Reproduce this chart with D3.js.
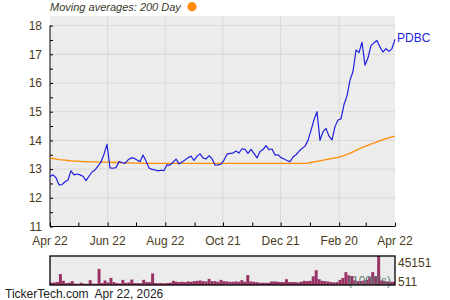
<!DOCTYPE html>
<html>
<head>
<meta charset="utf-8">
<script src="https://cdn.jsdelivr.net/npm/d3@7"></script>
<style>
  body { margin: 0; background: #fff; }
  svg { display: block; font-family: "Liberation Sans", Arial, sans-serif; }
</style>
</head>
<body>
<svg id="chart" width="450" height="300"></svg>
<script>
// closing prices, evenly spaced from Apr 22 to Apr 22
const prices = [
  12.74, 12.80, 12.70, 12.45, 12.46, 12.56, 12.62, 12.94, 12.80, 12.83,
  12.80, 12.75, 12.60, 12.75, 12.90, 12.97, 13.10, 13.25, 13.52, 13.86,
  13.04, 13.03, 13.05, 13.26, 13.23, 13.20, 13.32, 13.39, 13.38, 13.32,
  13.26, 13.49, 13.28, 13.04, 12.99, 12.97, 12.94, 12.96, 12.95, 13.15,
  13.14, 13.24, 13.35, 13.18, 13.25, 13.32, 13.40, 13.45, 13.30, 13.45,
  13.53, 13.39, 13.35, 13.47, 13.36, 13.14, 13.15, 13.17, 13.31, 13.52,
  13.55, 13.56, 13.63, 13.56, 13.71, 13.69, 13.55, 13.69, 13.55, 13.39,
  13.61, 13.68, 13.82, 13.68, 13.70, 13.49, 13.50, 13.40, 13.35, 13.30,
  13.26, 13.42, 13.50, 13.62, 13.72, 13.80, 14.00, 14.35, 14.72, 15.00,
  14.00, 14.30, 14.42, 14.15, 14.02, 14.48, 14.71, 14.75, 15.25, 15.55,
  16.10, 16.40, 17.15, 17.06, 17.42, 16.62, 16.88, 17.30, 17.40, 17.48,
  17.25, 17.08, 17.20, 17.10, 17.20, 17.52
]

// 200 day moving average
const ma200 = [
  13.38, 13.37, 13.35, 13.33, 13.32, 13.31, 13.30, 13.29, 13.28, 13.28,
  13.27, 13.26, 13.26, 13.25, 13.25, 13.25, 13.24, 13.24, 13.24, 13.24,
  13.24, 13.23, 13.23, 13.23, 13.22, 13.22, 13.22, 13.22, 13.21, 13.21,
  13.21, 13.20, 13.20, 13.20, 13.20, 13.20, 13.20, 13.20, 13.20, 13.20,
  13.20, 13.20, 13.20, 13.20, 13.20, 13.20, 13.20, 13.20, 13.20, 13.20,
  13.20, 13.20, 13.20, 13.20, 13.20, 13.20, 13.20, 13.20, 13.20, 13.20,
  13.20, 13.20, 13.20, 13.20, 13.20, 13.20, 13.20, 13.20, 13.20, 13.20,
  13.20, 13.20, 13.20, 13.20, 13.20, 13.20, 13.20, 13.20, 13.20, 13.20,
  13.20, 13.20, 13.20, 13.20, 13.20, 13.20, 13.21, 13.23, 13.25, 13.27,
  13.29, 13.31, 13.33, 13.35, 13.37, 13.39, 13.41, 13.44, 13.47, 13.51,
  13.55, 13.60, 13.65, 13.70, 13.75, 13.79, 13.83, 13.87, 13.91, 13.95,
  13.99, 14.03, 14.06, 14.09, 14.12, 14.15
]

// volume in 1000's
const volumes = [
  3600, 3900, 4700, 17000, 6500, 2800, 3500, 6000, 2200, 2000,
  3500, 2200, 2000, 7500, 2300, 2000, 25000, 3000, 7000, 4000,
  11000, 4500, 3000, 2500, 8000, 3500, 4000, 8500, 3000, 3000,
  2800, 8000, 4500, 4500, 18000, 3000, 2800, 3000, 2500, 3000,
  3500, 6500, 5000, 4500, 5000, 4500, 5500, 5000, 6000, 6500,
  7000, 6000, 5500, 9500, 6000, 6000, 5000, 8000, 6000, 5500,
  5000, 5000, 5500, 5000, 7500, 5000, 15500, 5500, 5000, 4500,
  3500, 3500, 3500, 3500, 5500, 5500, 5000, 4500, 4500, 9000,
  4500, 4500, 4500, 4000, 5000, 6500, 6000, 6500, 13500, 23000,
  9000, 6500, 6000, 5500, 4500, 4000, 4500, 8000, 11000, 20000,
  15000, 14000, 7500, 6000, 6000, 7000, 8000, 12000, 20000, 14000,
  45151, 7000, 6500, 5500, 5000, 5000
]

const xTickLabels = ['Apr 22', 'Jun 22', 'Aug 22', 'Oct 21', 'Dec 21', 'Feb 20', 'Apr 22']
const yTicks = [11, 12, 13, 14, 15, 16, 17, 18]
const volLabels = ['45151', '511']

const startDate = new Date(2021, 3, 22)
const endDate = new Date(2022, 3, 22)

const plotLeft = 50, plotRight = 395, plotTop = 16, plotBottom = 226.5
const volTop = 256, volBottom = 285
const textColor = '#4a3b1c'
const gridColor = '#d8d8d8'

const svg = d3.select('#chart')

// plot background
svg.append('rect')
    .attr('x', plotLeft).attr('y', plotTop)
    .attr('width', plotRight - plotLeft).attr('height', plotBottom - plotTop)
    .attr('fill', '#ececec')

const xTime = d3.scaleTime().domain([startDate, endDate]).range([plotLeft, plotRight])
const xIdx = d3.scaleLinear().domain([0, prices.length - 1]).range([plotLeft, plotRight])
const y = d3.scaleLinear().domain([11, 18]).range([plotBottom, 25.6])

const monthTicks = d3.range(0, 13).map(k => d3.timeMonth.offset(startDate, k))
const labelTicks = monthTicks.filter((d, k) => k % 2 === 0)

//grid lines
svg.append('g')
    .selectAll('line')
    .data(yTicks.slice(1))
    .enter().append('line')
    .attr('x1', plotLeft).attr('x2', plotRight)
    .attr('y1', d => y(d)).attr('y2', d => y(d))
    .attr('stroke', gridColor).attr('stroke-width', 1)

svg.append('g')
    .selectAll('line')
    .data(labelTicks.slice(1, -1))
    .enter().append('line')
    .attr('x1', d => xTime(d)).attr('x2', d => xTime(d))
    .attr('y1', plotTop).attr('y2', plotBottom)
    .attr('stroke', gridColor).attr('stroke-width', 1)

// y axis, ticks point inward
const yAxis = svg.append('g')
    .attr('transform', `translate(${plotLeft},0)`)
    .call(d3.axisRight(y).tickValues(d3.range(11, 18.01, 0.5)).tickSize(3).tickFormat(''))
yAxis.select('.domain').attr('stroke', '#000').attr('d', `M0,${y(18)}V${plotBottom}`)
yAxis.selectAll('.tick line').attr('stroke', '#000')

svg.append('g')
    .selectAll('text')
    .data(yTicks)
    .enter().append('text')
    .attr('x', 42)
    .attr('y', d => y(d))
    .attr('dy', '0.35em')
    .attr('text-anchor', 'end')
    .attr('font-size', 12)
    .attr('fill', textColor)
    .text(d => d)

// x axis
const xAxis = svg.append('g')
    .attr('transform', `translate(0,${plotBottom})`)
    .call(d3.axisTop(xTime).tickValues(monthTicks).tickSize(4).tickFormat(''))
xAxis.select('.domain').attr('stroke', '#000').attr('d', `M${plotLeft},0H${plotRight}`)
xAxis.selectAll('.tick line').attr('stroke', '#000')

svg.append('g')
    .selectAll('text')
    .data(labelTicks)
    .enter().append('text')
    .attr('x', d => xTime(d))
    .attr('y', 245)
    .attr('text-anchor', 'middle')
    .attr('font-size', 12)
    .attr('fill', textColor)
    .text((d, i) => xTickLabels[i])

// moving average line
svg.append('path')
    .datum(ma200)
    .attr('fill', 'none')
    .attr('stroke', '#ff8c00')
    .attr('stroke-width', 1.3)
    .attr('d', d3.line().x((d, i) => xIdx(i)).y(d => y(d)))

// price line
svg.append('path')
    .datum(prices)
    .attr('fill', 'none')
    .attr('stroke', '#1f1fe0')
    .attr('stroke-width', 1.2)
    .attr('stroke-linejoin', 'round')
    .attr('d', d3.line().x((d, i) => xIdx(i)).y(d => y(d)))

svg.append('text')
    .attr('x', plotRight + 2)
    .attr('y', y(prices[prices.length - 1]))
    .attr('dy', '0.2em')
    .attr('font-size', 12)
    .attr('fill', '#1f1fe0')
    .text('PDBC')

// legend
svg.append('text')
    .attr('x', plotLeft)
    .attr('y', 11)
    .attr('font-size', 11)
    .attr('font-style', 'italic')
    .attr('fill', '#3a3a2a')
    .text('Moving averages: 200 Day')

svg.append('circle')
    .attr('cx', 192).attr('cy', 6.7).attr('r', 4.6)
    .attr('fill', '#ff8c00')

// volume panel
svg.append('rect')
    .attr('x', plotLeft).attr('y', volTop)
    .attr('width', plotRight - plotLeft).attr('height', volBottom - volTop)
    .attr('fill', '#ececec')

const yVol = d3.scaleLinear().domain([0, d3.max(volumes)]).range([volBottom, volTop])
const barW = (plotRight - plotLeft) / volumes.length

svg.append('g')
    .selectAll('rect')
    .data(volumes)
    .enter().append('rect')
    .attr('x', (d, i) => plotLeft + i * barW)
    .attr('y', d => yVol(d))
    .attr('width', barW)
    .attr('height', d => volBottom - yVol(d))
    .attr('fill', '#993366')

svg.append('text')
    .attr('x', 348)
    .attr('y', 285)
    .attr('font-size', 12)
    .attr('fill', '#5f8070')
    .text("(1000's)")

svg.append('rect')
    .attr('x', plotLeft).attr('y', volTop)
    .attr('width', plotRight - plotLeft).attr('height', volBottom - volTop)
    .attr('fill', 'none')
    .attr('stroke', '#000')
    .attr('stroke-width', 1.3)

svg.append('g')
    .selectAll('text')
    .data(volLabels)
    .enter().append('text')
    .attr('x', plotRight + 3)
    .attr('y', (d, i) => i === 0 ? 263 : 282)
    .attr('dy', '0.35em')
    .attr('font-size', 12)
    .attr('fill', textColor)
    .text(d => d)

// footer
svg.append('text')
    .attr('x', 5)
    .attr('y', 298)
    .attr('font-size', 12)
    .attr('fill', '#222')
    .style('white-space', 'pre')
    .text('TickerTech.com  Apr 22, 2026')
</script>
</body>
</html>
